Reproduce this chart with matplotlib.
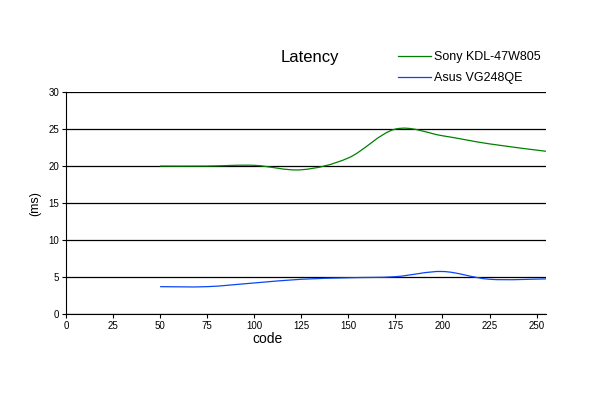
import matplotlib.pyplot as plt
from matplotlib.path import Path
from matplotlib.patches import PathPatch
from matplotlib.lines import Line2D

codes = [50, 75, 100, 125, 150, 175, 200, 225, 255]
sony = [20.0, 20.0, 20.1, 19.5, 21.1, 25.0, 24.1, 23.0, 22.0]
asus = [3.7, 3.7, 4.2, 4.7, 4.9, 5.05, 5.75, 4.7, 4.75]
x_ticks = [0, 25, 50, 75, 100, 125, 150, 175, 200, 225, 250]
y_ticks = [0, 5, 10, 15, 20, 25, 30]

plt.rcParams["font.family"] = ["Liberation Sans", "DejaVu Sans"]


def smooth_path(xs, ys):
    # excel-style smoothed line: cubic bezier through the points
    pts = list(zip(xs, ys))
    verts = [pts[0]]
    kinds = [Path.MOVETO]
    n = len(pts)
    for i in range(n - 1):
        p0 = pts[max(i - 1, 0)]
        p1 = pts[i]
        p2 = pts[i + 1]
        p3 = pts[min(i + 2, n - 1)]
        c1 = (p1[0] + (p2[0] - p0[0]) / 6, p1[1] + (p2[1] - p0[1]) / 6)
        c2 = (p2[0] - (p3[0] - p1[0]) / 6, p2[1] - (p3[1] - p1[1]) / 6)
        verts += [c1, c2, p2]
        kinds += [Path.CURVE4] * 3
    return Path(verts, kinds)


fig = plt.figure(figsize=(6, 3.97), dpi=100)
ax = fig.add_axes([0.11, 0.209, 0.80, 0.559])

for ys, col in [(sony, "#008000"), (asus, "#0a46f5")]:
    ax.add_patch(PathPatch(smooth_path(codes, ys), fill=False,
                           edgecolor=col, lw=0.9))

ax.set_xlim(0, 255)
ax.set_ylim(0, 30)
ax.set_xticks(x_ticks)
ax.set_yticks(y_ticks)
ax.grid(axis="y", color="black", lw=0.9)
ax.set_axisbelow(True)
for s in ["top", "right"]:
    ax.spines[s].set_visible(False)
ax.tick_params(axis="both", labelsize=7, length=3, width=0.8, pad=2)

ax.set_xlabel("code", fontsize=10, va="center")
ax.xaxis.set_label_coords(0.42, -0.113)
ax.set_ylabel("(ms)", fontsize=9, va="center")
ax.yaxis.set_label_coords(-0.065, 0.5)
fig.text(0.517, 0.855, "Latency", fontsize=12, ha="center", va="center")

handles = [Line2D([], [], color="#008000", lw=0.9),
           Line2D([], [], color="#0a46f5", lw=0.9)]
fig.legend(handles, ["Sony KDL-47W805", "Asus VG248QE"],
           loc="upper left", bbox_to_anchor=(0.645, 0.9), frameon=False,
           fontsize=9, handlelength=2.6, handletextpad=0.3, labelspacing=0.75)

fig.savefig("out.png", dpi=100)
